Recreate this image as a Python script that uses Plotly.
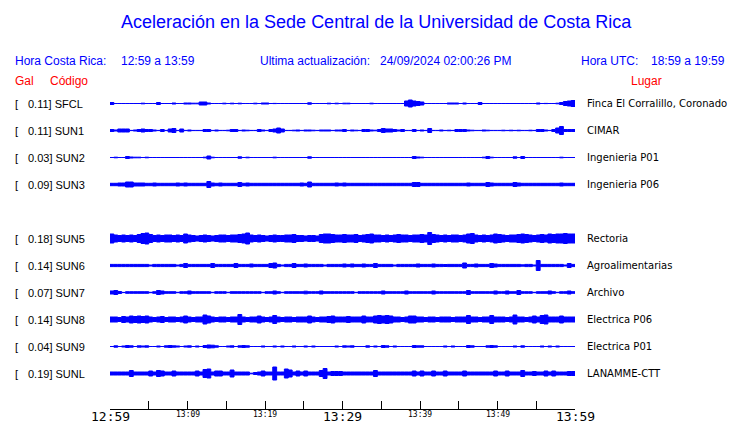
import plotly.graph_objects as go

# ---------------- data ----------------
station_codes = ["SFCL", "SUN1", "SUN2", "SUN3", "SUN4", "SUN5", "SUN6", "SUN7", "SUN8", "SUN9", "SUNL"]
peak_gal = [0.11, 0.11, 0.03, 0.09, None, 0.18, 0.14, 0.07, 0.14, 0.04, 0.19]
places = ["Finca El Corralillo, Coronado", "CIMAR", "Ingenieria P01", "Ingenieria P06", None,
          "Rectoria", "Agroalimentarias", "Archivo", "Electrica P06", "Electrica P01", "LANAMME-CTT"]

tick_minutes = [0, 10, 20, 30, 40, 50, 60]
tick_labels = ["12:59", "13:09", "13:19", "13:29", "13:39", "13:49", "13:59"]
minor_tick_minutes = [0, 5, 10, 15, 20, 25, 30, 35, 40, 45, 50, 55, 60]

title_text = "Aceleración en la Sede Central de la Universidad de Costa Rica"
hora_cr = ["Hora Costa Rica:", "12:59 a 13:59"]
ultima = ["Ultima actualización:", "24/09/2024 02:00:26 PM"]
hora_utc = ["Hora UTC:", "18:59 a 19:59"]

# peak-amplitude envelope per 30-s window (display units)
env_sfcl = [1.5, .5, .5, .5, .5, .5, .5, .5, .8, .5, .5, .5, 1.5, .5, .5, .5, 1, .5, .5, 1,
            1, .8, .8, 2, 2, 1, .5, .5, .5, .8, .5, .8, .5, .8, .5, .5, .5, .8, .5, 1,
            1, .5, .6, .5, .5, .5, .5, .5, .5, .5, .5, 1.2, .5, .5, .5, .5, .8, .5, .8, .5,
            .8, .8, .5, .5, .5, .5, .5, .8, .5, .5, .5, .5, .5, .5, .5, .5, 3, 4, 3, 2.5,
            2, .5, .5, .5, .5, .5, .5, 1, 1, 1, .5, 1, .5, .5, .5, 1.5, .5, .5, .5, .5,
            .5, .5, .5, .5, .5, .5, .5, .5, .5, .5, 1, .5, .6, .5, .5, .8, 1.5, 2.5, 3, 3.5]
env_sun1 = [1.5, 1, 2, 2, 2, .6, 1, 1.5, 2, 1.5, 1.5, 1, .6, 1.5, .6, 2, 2.5, .6, 2, .6,
            1, .6, .6, .6, 1.5, 1.5, .6, 1, .6, .6, .8, 1.5, 1.5, .6, 1, .8, .6, .6, 1.5, 1,
            .6, 1.5, 2, 3, 2, .6, .6, .8, 1, .6, 1, 1, .8, .6, 1, 1, 1, .6, 1, 1,
            1.5, .6, 1, .8, .6, 1.5, 1.5, 1, .8, 1.5, 2.5, 2, 2, 1.5, 1, 1.5, .6, .6, 1.5, .6,
            1, .6, 2.5, .6, .6, 1, .6, .8, .6, 1.5, 1.5, 1.5, 1, .8, .6, .6, 1, .8, .6, .6,
            .6, .8, .6, .8, .6, .8, .6, .6, .8, .6, 1.5, 1.5, 1, .6, 1.5, 3, 4.5, 1.5, 1.5, 1.5]
env_sun2 = [.5, .8, .5, .5, 1.5, 1, .8, .8, .5, .8, .5, .5, .5, .5, .5, .5, .5, .5, .5, .5,
            .5, .5, .5, .5, .8, 2, .8, .5, .5, .5, .5, .5, .5, 1.2, .5, .8, .5, .5, .5, .5,
            .5, .5, .8, .5, .5, .5, .5, .5, .5, .5, .5, 1.2, .5, .5, .5, .5, .5, .5, .5, .5,
            .5, .5, .5, .5, .5, .5, .5, .5, .5, .5, .5, .5, .5, .5, .5, .5, .5, .5, 1.5, 1,
            .8, .5, .5, .5, .5, .5, .5, .5, .5, .5, .5, .5, .5, .5, .5, .5, .8, 1.5, .8, .5,
            .5, .5, .5, .5, 1.2, .5, 1.5, .5, .5, .5, .5, .5, .5, .5, .5, .5, .8, .5, .5, .5]
env_sun3 = [1.7, 1.7, 2, 2, 3, 3, 2, 2, 2, 1.7, 1.7, 2, 1.7, 1.7, 1.7, 1.7, 1.7, 2, 1.7, 2,
            1.7, 1.7, 1.7, 1.7, 1.7, 3.5, 2, 1.7, 2, 1.7, 1.7, 1.7, 1.7, 2.5, 1.7, 2, 1.7, 1.7, 1.7, 1.7,
            1.7, 1.7, 1.7, 1.7, 1.7, 1.7, 1.7, 1.7, 1.7, 2, 1.7, 3, 1.7, 1.7, 1.7, 1.7, 1.7, 1.7, 2, 1.7,
            2, 1.7, 1.7, 1.7, 1.7, 1.7, 1.7, 1.7, 1.7, 1.7, 1.7, 1.7, 1.7, 1.7, 1.7, 1.7, 1.7, 1.7, 2.5, 2.5,
            1.7, 1.7, 1.7, 1.7, 1.7, 1.7, 1.7, 1.7, 1.7, 1.7, 1.7, 1.7, 2, 1.7, 1.7, 1.7, 1.7, 2.5, 2, 1.7,
            1.7, 1.7, 1.7, 1.7, 2.5, 2, 1.7, 1.7, 1.7, 1.7, 1.7, 1.7, 1.7, 1.7, 1.7, 1.7, 2, 1.7, 1.7, 1.7]
env_sun5 = [5, 4, 3.5, 4, 3.5, 4, 3.5, 4.5, 5.5, 6, 4.5, 3.5, 4, 3.5, 4, 4, 3.5, 4, 3.5, 5,
            4, 3.5, 3, 3.5, 4, 3.5, 3, 3.5, 4, 4, 3.5, 4, 4, 4.5, 5, 6, 4, 3.5, 4, 3.5,
            3, 3.5, 4, 3.5, 3.5, 4, 4, 4.5, 3.5, 3.5, 3, 3.5, 3.5, 3, 4.5, 5, 5, 4.5, 4, 4,
            4.5, 4, 4, 4.5, 3.5, 4, 4.5, 5, 4, 4, 3.5, 4, 3.5, 4, 4.5, 4, 4, 3.5, 4, 4,
            4.5, 4, 6.5, 4.5, 4, 3.5, 4, 3.5, 4, 4, 3.5, 4, 5, 5.5, 4, 3.5, 4, 3.5, 4, 5,
            4.5, 4, 3.5, 4, 4, 4.5, 5, 4.5, 4, 3.5, 4, 4.5, 4, 5, 4.5, 5, 5, 5.5, 5, 5]
env_sun6 = [1.6, 1.6, 1.6, 1.6, 1.6, 1.6, 1.6, 1.6, 1.6, 1.6, 1, 1.6, 1.6, 1.6, 1.6, 1.6, 1.6, 1, 1.6, 2.5,
            1.6, 1.6, 1.6, 1.6, 1.6, 1.6, 2.5, 1.6, 1.6, 1.6, 1.6, 1.6, 2.5, 1.6, 1.6, 1.6, 2, 1.6, 1.6, 1.6,
            1.6, 2.5, 3, 1.6, 1, 1.6, 1.6, 2.5, 1.6, 1.6, 2, 1.6, 1.6, 1.6, 1.6, 1, 1.6, 1.6, 1.6, 1.6,
            2, 1.6, 2, 1.6, 1.6, 2, 1.6, 1.6, 2.5, 1.6, 1.6, 1.6, 1.6, 1, 1.6, 1.6, 1.6, 1.6, 1.6, 2,
            1.6, 1.6, 1.6, 2, 1.6, 1.6, 1.5, 1.6, 1.6, 1.6, 1.6, 3, 1.6, 1.6, 2, 1.6, 1.6, 1.6, 2.5, 2,
            1.6, 1.6, 1.6, 1.6, 1.6, 1.6, 1.2, 1.6, 1.6, 1, 5.5, 1.6, 1.6, 1.6, 1.6, 1.6, 1.6, 1, 2.5, 1.6]
env_sun7 = [2, 2.5, 1.5, .6, 1.3, 1.3, 1.3, 1.3, 1.3, 1.3, .7, 1.3, 2.5, 2, 1.3, 1.3, 1.3, .7, 1.3, 1.3,
            2, 1.3, 1.3, 1.3, 1.3, 1.3, .7, 1.3, 1.3, 1.3, .7, 1.3, 1.3, 1.3, 1.3, 1.3, 1.3, 1.3, 1.3, .7,
            1.3, 1.3, 2, 1.3, .7, 1.3, 1.3, 1.3, 1.3, 1.3, 1.8, 1.3, 1.3, 1.3, 2, 1.3, 1.3, 1.3, 1.3, 1.3,
            1.3, 1.3, 1.3, .7, 1.3, 1.3, 1.3, 1.3, 1.3, 1.3, 2, 1.3, 1.3, 1.3, 1.3, 1.3, 2, 1.3, 1.3, 1.3,
            1.3, 1.3, 1.3, 2, 1.3, 1.3, 1.3, 1.3, 1.3, 1.3, 1.3, 1.3, 2.5, 1.3, 1.3, 1.3, 1.3, 1.3, 1.3, 2,
            1.3, 1.3, 2, 1.3, 1.3, 2.5, 1.3, 1.3, 1.3, .7, 1.3, 1.3, 1.3, 2, 1.3, .7, 1.3, 1.3, 2, 1.3]
env_sun8 = [3, 3, 2.5, 3.5, 3, 4, 3.5, 4, 3.5, 4, 3, 2.5, 3, 3.5, 2.5, 3, 3, 2.5, 3, 4,
            3, 2.5, 3, 3, 5, 4, 3, 2.5, 3, 3, 2.5, 3, 3, 5.5, 3, 2.5, 3, 3, 4, 3,
            2.5, 3, 4.5, 3, 2.5, 3, 3, 2.5, 3, 3, 3, 4, 3, 2.5, 3, 3, 3.5, 4, 3, 3,
            3, 3.5, 3, 3, 3, 4, 3, 3, 4, 4.5, 4, 4.5, 4, 3, 3, 2.5, 3, 4, 4, 3,
            3, 2.5, 3, 3, 2.5, 3, 3, 3, 2.5, 3, 3, 3, 4.5, 3, 3, 2.5, 3, 3, 4.5, 3,
            3, 3, 2.5, 3, 5, 3, 3, 2.5, 3, 4, 3, 4.5, 5, 3, 3, 3, 4, 3, 3, 3]
env_sun9 = [.5, 1.2, .5, 1, 1.5, 1.2, .5, 1.2, 1, 1.2, .5, .5, 1, .5, 1.2, 1.5, 1.2, 1, .5, 1,
            1.2, .5, 1, .5, 1.5, 2, 1.8, 1.2, .5, .5, 1, 1.2, .5, 1.2, 1.5, 1.2, .5, .5, .5, 1,
            .5, .5, 1, .5, 1, .5, .5, 1, .5, .5, 1, .5, 1, .5, .5, .5, .5, .5, 1, .5,
            1.2, 1, 1.2, .5, .5, .5, 1.2, .5, 1, .5, 1.5, 1.2, .5, 1, .5, .5, .5, .5, 1.5, 1.2,
            1.2, .5, .5, .5, .5, .5, 1, .5, 1, .5, .5, .5, 1.5, 1.2, .5, .5, .5, 1.2, 1.5, 1.2,
            .5, .5, .5, .5, 1, .5, 1.2, .5, .5, .5, .5, 1, .5, 1, .5, 1, .5, .5, .5, .5]
env_sunl = [2, 2, 2, 2, 2, 3.5, 2, 2, 2, 2, 3, 2, 3.5, 3, 2, 2, 3, 2, 2, 2,
            2, 2, 3, 2, 4.5, 5, 2, 3, 3, 2, 2, 4, 2, 2, 2, 2, .8, 1.5, 2, 3,
            2, 2, 7, 2, 2, 5, 4, 2, 3, 2, 3, 2, 2, 2, 3.5, 5.5, 2, 2.5, 2.5, 2.5,
            2, 2, 2, 2, 2, 2, 2, 2, 3.5, 2, 2, 2, 2, 2, 2, 2, 2, 2, 3, 2,
            3, 2, 2, 3, 2, 2, 3, 2, 2, 2, 2, 3, 2, 2, 2, 2, 2, 2, 2, 3,
            2, 2, 3, 2, 2, 2, 3.5, 2, 2, 2.5, 2, 2, 3, 2, 3, 2, 2, 2, 2.5, 2.5]

envelopes = {"SFCL": env_sfcl, "SUN1": env_sun1, "SUN2": env_sun2, "SUN3": env_sun3,
             "SUN5": env_sun5, "SUN6": env_sun6, "SUN7": env_sun7, "SUN8": env_sun8,
             "SUN9": env_sun9, "SUNL": env_sunl}

# ---------------- layout constants (page pixels) ----------------
OFF = 8                      # page body margin of the html page
PAGE_W, PAGE_H = 740, 423
W, H = PAGE_W - OFF, PAGE_H - OFF
PLOT_X0, PLOT_X1 = 110, 575  # page px
PLOT_Y0, PLOT_Y1 = 90, 409   # page px
L = PLOT_X0 - OFF
R = W - (PLOT_X1 - OFF)
T = PLOT_Y0 - OFF
B = H - (PLOT_Y1 - OFF)
ROW = 27
FIRST_ROW_Y = 103.5
BLUE = "#0000ff"
RED = "#ff0000"
SANS = "Liberation Sans, Arial, sans-serif"
DJV = "DejaVu Sans, sans-serif"
MONO = "DejaVu Sans Mono, monospace"
TXT_PAD = 2


def px_x(x):
    return (x - PLOT_X0) / (PLOT_X1 - PLOT_X0)


def px_y(y):
    return (PLOT_Y1 - y) / (PLOT_Y1 - PLOT_Y0)


fig = go.Figure()

for k, code in enumerate(station_codes):
    env = envelopes.get(code)
    if env is None:
        continue
    c = -ROW * k
    n = len(env)
    dt = 60.0 / n
    xs, up = [], []
    for i, a in enumerate(env):
        h = max(a - 0.5, 0)
        xs += [i * dt, (i + 1) * dt]
        up += [c + h, c + h]
    lo = [2 * c - v for v in up]
    fig.add_trace(go.Scatter(
        x=xs + xs[::-1] + [xs[0]], y=up + lo[::-1] + [up[0]],
        mode="lines", fill="toself", fillcolor=BLUE,
        line=dict(color=BLUE, width=1, simplify=False, shape="linear"),
        hoverinfo="skip", showlegend=False))

ann = []
ann.append(dict(x=px_x(376), y=px_y(22), text=title_text, font=dict(family=SANS, size=18, color=BLUE),
                xanchor="center", yanchor="middle"))
hdr = [(15, hora_cr[0]), (121, hora_cr[1]), (260, ultima[0]), (380, ultima[1]),
       (581, hora_utc[0]), (651, hora_utc[1])]
for x, t in hdr:
    ann.append(dict(x=px_x(x - TXT_PAD), y=px_y(61), text=t, font=dict(family=SANS, size=12, color=BLUE),
                    xanchor="left", yanchor="middle"))
for x, t in [(15, "Gal"), (50, "Código"), (631, "Lugar")]:
    ann.append(dict(x=px_x(x - TXT_PAD), y=px_y(81), text=t, font=dict(family=SANS, size=12, color=RED),
                    xanchor="left", yanchor="middle"))

for k, code in enumerate(station_codes):
    if peak_gal[k] is None:
        continue
    yk = -ROW * k
    ann.append(dict(x=px_x(15 - TXT_PAD), y=yk, yref="y", text="[",
                    font=dict(family=SANS, size=11, color="black"), xanchor="left", yanchor="middle"))
    ann.append(dict(x=px_x(28 - TXT_PAD), y=yk, yref="y", text=f"{peak_gal[k]:.2f}] {code}",
                    font=dict(family=SANS, size=11, color="black"), xanchor="left", yanchor="middle"))
    ann.append(dict(x=px_x(587 - TXT_PAD), y=yk, yref="y", text=places[k],
                    font=dict(family=DJV, size=10, color="black"), xanchor="left", yanchor="middle"))

for m, lab in zip(tick_minutes, tick_labels):
    major = (m % 30 == 0)
    ann.append(dict(x=m, xref="x", y=px_y(416 if major else 414), text=lab,
                    font=dict(family=MONO, size=13 if major else 8, color="black"),
                    xanchor="center", yanchor="middle"))

for a in ann:
    a.setdefault("xref", "paper")
    a.setdefault("yref", "paper")
    a["showarrow"] = False

fig.update_layout(
    width=W, height=H, margin=dict(l=L, r=R, t=T, b=B, pad=0),
    paper_bgcolor="white", plot_bgcolor="white", annotations=ann, showlegend=False,
    xaxis=dict(range=[0, 60], showgrid=False, zeroline=False, showline=True, linecolor="black",
               linewidth=1, ticks="inside", ticklen=8, tickwidth=1, tickcolor="black",
               tickvals=minor_tick_minutes, showticklabels=False, fixedrange=True),
    yaxis=dict(range=[-(PLOT_Y1 - FIRST_ROW_Y), FIRST_ROW_Y - PLOT_Y0], visible=False, fixedrange=True),
)

fig.write_html("out.html", config={"displayModeBar": False})
